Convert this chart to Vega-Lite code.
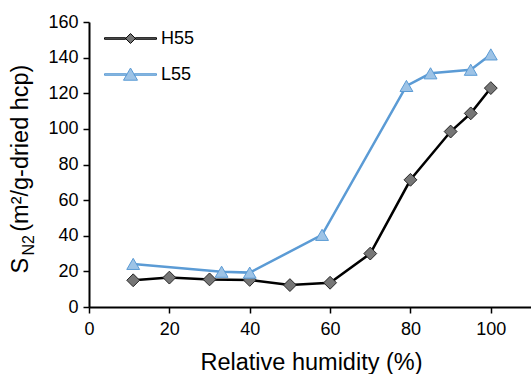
{
  "$schema": "https://vega.github.io/schema/vega-lite/v6.json",
  "width": 442,
  "height": 285,
  "autosize": "none",
  "padding": {"left": 89, "top": 22, "right": 0, "bottom": 67},
  "config": {
    "view": {"stroke": null},
    "font": "Liberation Sans",
    "axis": {
      "grid": false,
      "domainColor": "#000000",
      "tickColor": "#000000",
      "labelColor": "#000000",
      "titleColor": "#000000",
      "labelFont": "Liberation Sans",
      "titleFont": "Liberation Sans",
      "labelFontSize": 18,
      "titleFontWeight": "normal"
    },
    "legend": {"labelFont": "Liberation Sans", "labelColor": "#000000"}
  },
  "data": {
    "values": [
      {"sample": "H55", "rh": 11, "sn2": 15.0},
      {"sample": "H55", "rh": 20, "sn2": 16.5},
      {"sample": "H55", "rh": 30, "sn2": 15.5},
      {"sample": "H55", "rh": 40, "sn2": 15.2},
      {"sample": "H55", "rh": 50, "sn2": 12.3},
      {"sample": "H55", "rh": 60, "sn2": 13.6},
      {"sample": "H55", "rh": 70, "sn2": 30.0},
      {"sample": "H55", "rh": 80, "sn2": 71.4},
      {"sample": "H55", "rh": 90, "sn2": 98.5},
      {"sample": "H55", "rh": 95, "sn2": 108.7},
      {"sample": "H55", "rh": 100, "sn2": 122.9},
      {"sample": "L55", "rh": 11, "sn2": 24.2},
      {"sample": "L55", "rh": 33, "sn2": 19.8},
      {"sample": "L55", "rh": 40, "sn2": 19.3},
      {"sample": "L55", "rh": 58, "sn2": 40.5},
      {"sample": "L55", "rh": 79, "sn2": 124.1},
      {"sample": "L55", "rh": 85, "sn2": 131.2},
      {"sample": "L55", "rh": 95, "sn2": 133.2},
      {"sample": "L55", "rh": 100, "sn2": 141.8}
    ]
  },
  "layer": [
    {
      "mark": {"type": "line"},
      "encoding": {
        "x": {
          "field": "rh",
          "type": "quantitative",
          "scale": {"domain": [0, 110], "nice": false},
          "axis": {
            "values": [0, 20, 40, 60, 80, 100],
            "tickSize": 6,
            "tickWidth": 1.5,
            "domainWidth": 2,
            "labelPadding": 7,
            "labelFlush": false,
            "title": "Relative humidity (%)",
            "titleFontSize": 23.5,
            "titleX": 222,
            "titleY": 62,
            "titleAlign": "center",
            "titleBaseline": "alphabetic"
          }
        },
        "y": {
          "field": "sn2",
          "type": "quantitative",
          "scale": {"domain": [0, 160], "nice": false},
          "axis": {
            "values": [0, 20, 40, 60, 80, 100, 120, 140, 160],
            "tickSize": 6,
            "tickWidth": 1.5,
            "domainWidth": 2,
            "labelPadding": 5,
            "title": "S\u00a0\u00a0\u00a0\u00a0(m²/g-dried hcp)",
            "titleFontSize": 23.5,
            "titleAngle": 270,
            "titleX": -62,
            "titleY": 251,
            "titleAlign": "left",
            "titleBaseline": "alphabetic"
          }
        },
        "strokeWidth": {"value": 2.5},
        "color": {
          "field": "sample",
          "type": "nominal",
          "scale": {"domain": ["H55", "L55"], "range": ["#000000", "#5b9bd5"]},
          "legend": {
            "orient": "none",
            "legendX": 15,
            "legendY": -10,
            "title": null,
            "padding": 0,
            "symbolSize": 2704,
            "symbolStrokeWidth": 1,
            "symbolOpacity": 1,
            "symbolType": {"expr": "datum.value === 'H55' ? 'M-1,-0.03H-0.19V0.03H-1Z M0.19,-0.03H1V0.03H0.19Z M-0.19,0L0,-0.19L0.19,0L0,0.19Z' : 'M-1,-0.03H-0.15V0.03H-1Z M0.15,-0.03H1V0.03H0.15Z M0,-0.25L0.27,0.22L-0.27,0.22Z'"},
            "symbolFillColor": {"expr": "datum.value === 'H55' ? '#767676' : '#9dc3e6'"},
            "labelFontSize": 18,
            "labelOffset": 4,
            "rowPadding": -9
          }
        }
      }
    },
    {
      "mark": {"type": "point", "filled": true, "opacity": 1, "strokeWidth": 1, "size": 165},
      "encoding": {
        "x": {"field": "rh", "type": "quantitative"},
        "y": {
          "field": "sn2",
          "type": "quantitative",
          "axis": {
            "orient": "left",
            "domain": false,
            "ticks": false,
            "labels": false,
            "grid": false,
            "title": "N2",
            "titleFontSize": 16,
            "titleAngle": 270,
            "titleX": -56,
            "titleY": 233,
            "titleAlign": "left",
            "titleBaseline": "alphabetic"
          }
        },
        "shape": {
          "condition": {"test": "datum.sample === 'H55'", "value": "diamond"},
          "value": "triangle-up"
        },
        "fill": {
          "condition": {"test": "datum.sample === 'H55'", "value": "#767676"},
          "value": "#9dc3e6"
        },
        "stroke": {
          "condition": {"test": "datum.sample === 'H55'", "value": "#262626"},
          "value": "#5b9bd5"
        }
      }
    }
  ],
  "resolve": {"axis": {"y": "independent"}}
}
